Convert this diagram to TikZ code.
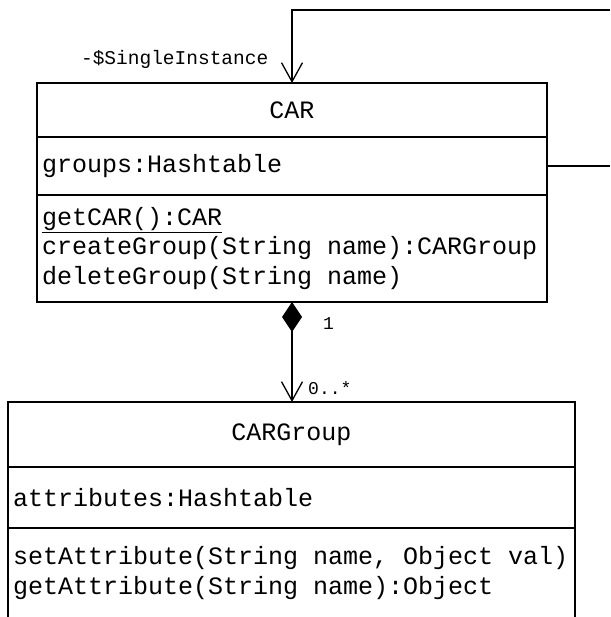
\documentclass[tikz,border=0pt]{standalone}
\usepackage{fontspec}
\setmonofont{Liberation Mono}
\usepackage{tikz}
\usetikzlibrary{arrows.meta,positioning}

\begin{document}
\begin{tikzpicture}[
    x=1pt, y=-1pt,
    node distance=0pt,
    compartment/.style={rectangle, draw, line width=1.3pt, outer sep=0pt, inner xsep=5pt, inner ysep=0pt,
        font=\ttfamily\fontsize{25}{29.5}\selectfont},
    carpart/.style={compartment, text width=500pt},
    grouppart/.style={compartment, text width=557pt},
    small/.style={inner sep=0pt, font=\ttfamily\fontsize{19.5}{22}\selectfont},
    tiny/.style={inner sep=0pt, font=\ttfamily\fontsize{18}{20}\selectfont},
    assoc/.style={line width=1.3pt},
    open/.style={-{Straight Barb[length=19pt,width=21pt]}},
    composition/.style={{Diamond[length=30pt,width=20pt]}-{Straight Barb[length=19pt,width=21pt]}}
]
\useasboundingbox (0,0) rectangle (610,617);

% CAR class
\node[carpart, align=flush center, minimum height=54pt] (carname) at (292,110) {CAR};
\node[carpart, align=flush left, minimum height=58pt, below=of carname] (carattr) {groups:Hashtable};
\node[carpart, align=flush left, minimum height=107pt, below=of carattr] (carops)
    {\underline{getCAR():CAR}\\createGroup(String name):CARGroup\\deleteGroup(String name)};

% CARGroup class
\node[grouppart, align=flush center, minimum height=65pt] (cgname) at (291.5,434.5) {CARGroup};
\node[grouppart, align=flush left, minimum height=61pt, below=of cgname] (cgattr) {attributes:Hashtable};
\node[grouppart, align=flush left, minimum height=90pt, below=of cgattr] (cgops)
    {setAttribute(String name, Object val)\\getAttribute(String name):Object};

% singleton self association
\coordinate (loopin) at (610,166);
\coordinate (loopout) at (610,10);
\draw[assoc] (carattr.east) -- (loopin);
\draw[assoc, open] (loopout) -| (carname.north);
\node[small, anchor=base east] (rolename) at ([xshift=-23.5pt,yshift=18pt]carname.north) {-\$SingleInstance};

% composition
\coordinate (cgin) at (carops.south |- cgname.north);
\draw[assoc, composition] (carops.south) -- (cgin);
\node[tiny, anchor=base west] (mult1) at ([xshift=31pt,yshift=-27pt]carops.south) {1};
\node[tiny, anchor=base west] (multn) at ([xshift=16pt,yshift=7.5pt]cgin) {0..*};
\end{tikzpicture}
\end{document}
